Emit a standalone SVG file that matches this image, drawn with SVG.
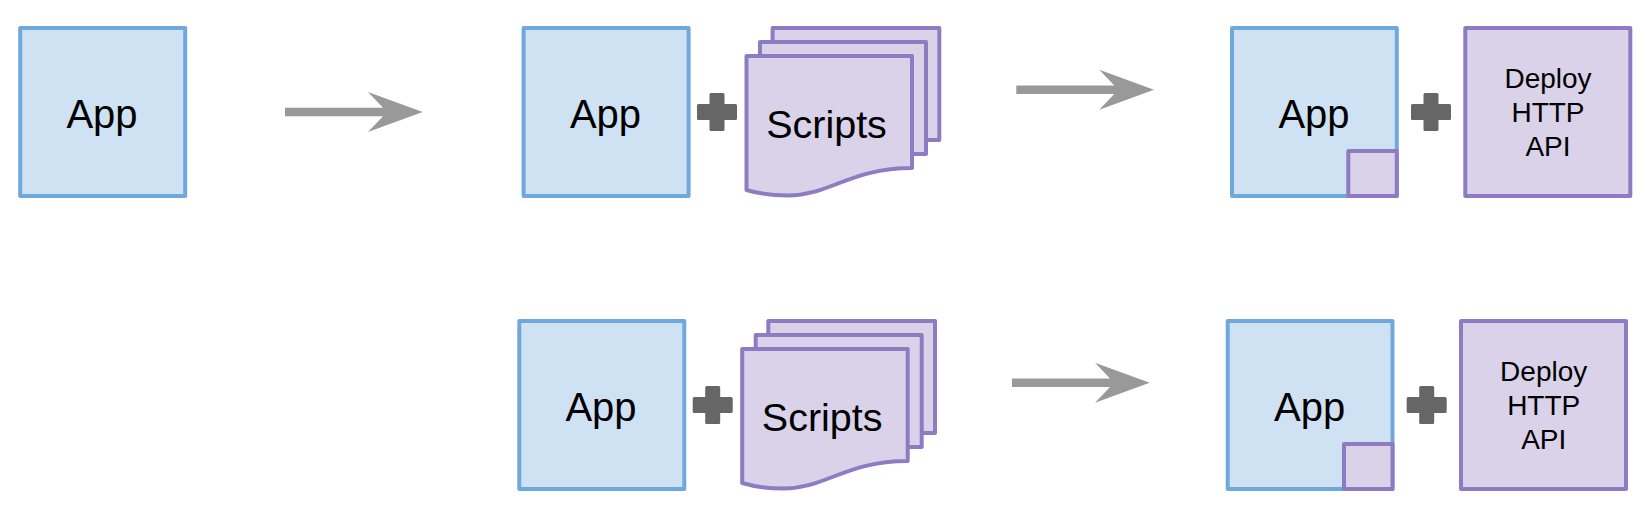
<svg xmlns="http://www.w3.org/2000/svg" width="1647" height="513" viewBox="0 0 1647 513">
<style>
.app{fill:#cfe2f3;stroke:#6fa8dc;stroke-width:4;stroke-linejoin:round}
.pur{fill:#d9d2e9;stroke:#8e7cc3;stroke-width:4;stroke-linejoin:round}
.plus{fill:#666666;stroke:#666666;stroke-width:3;stroke-linejoin:round}
.arrow{fill:#999999}
text{font-family:"Liberation Sans",Arial,sans-serif;fill:#000;text-anchor:middle}
.big{font-size:40px}
.doc{font-size:39.500px}
.small{font-size:28px}
</style>
<defs>
<path id="plusshape" class="plus" d="M14 1.500H26V12.500H38.500V25.500H26V36.500H14V25.500H1.500V12.500H14Z"/>
<path id="arrowshape" class="arrow" d="M0 -4.300H98L83 -20L137.700 0L83 20L98 4.300H0Z"/>
</defs>
<rect width="1647" height="513" fill="#ffffff"/>
<g id="connectors">
<use href="#arrowshape" x="285" y="112"/>
<use href="#arrowshape" x="1016.300" y="89.700"/>
<use href="#arrowshape" x="1012" y="382.700"/>
</g>
<g id="app-1"><rect class="app" x="20.200" y="28" width="165" height="168"/><text class="big" x="102" y="127.500">App</text></g>
<g id="app-2"><rect class="app" x="523.600" y="28" width="165" height="168"/><text class="big" x="605.500" y="127.500">App</text></g>
<g id="plus-1"><use href="#plusshape" x="697" y="93"/></g>
<g id="scripts-1">
<rect class="pur" x="772.600" y="28" width="166.700" height="112"/>
<rect class="pur" x="760" y="42" width="166" height="112"/>
<path class="pur" d="M746.500 56H912V168C850 168 830 195.500 788 195.500C775 195.500 760 194 746.500 190Z"/>
<text class="doc" x="826.500" y="138">Scripts</text>
</g>
<g id="app-3"><rect class="app" x="1232" y="28" width="164.800" height="168"/><rect class="pur" x="1348.300" y="151" width="48.500" height="45"/><text class="big" x="1314" y="127.500">App</text></g>
<g id="plus-2"><use href="#plusshape" x="1411" y="93"/></g>
<g id="deploy-1"><rect class="pur" x="1465.300" y="28" width="165" height="168"/><text class="small" x="1548" y="88.300">Deploy</text><text class="small" x="1548" y="122.300">HTTP</text><text class="small" x="1548" y="156">API</text></g>
<g id="app-4"><rect class="app" x="519.300" y="321" width="165" height="168"/><text class="big" x="601" y="420.500">App</text></g>
<g id="plus-3"><use href="#plusshape" x="692.700" y="386"/></g>
<g id="scripts-2">
<rect class="pur" x="768.300" y="321" width="166.700" height="112"/>
<rect class="pur" x="755.700" y="335" width="166" height="112"/>
<path class="pur" d="M742.200 349H907.700V461C845.700 461 825.700 488.500 783.700 488.500C770.700 488.500 755.700 487 742.200 483Z"/>
<text class="doc" x="822.200" y="431">Scripts</text>
</g>
<g id="app-5"><rect class="app" x="1227.700" y="321" width="164.800" height="168"/><rect class="pur" x="1344" y="444" width="48.500" height="45"/><text class="big" x="1309.700" y="420.500">App</text></g>
<g id="plus-4"><use href="#plusshape" x="1406.700" y="386"/></g>
<g id="deploy-2"><rect class="pur" x="1461" y="321" width="165" height="168"/><text class="small" x="1543.700" y="381.300">Deploy</text><text class="small" x="1543.700" y="415.300">HTTP</text><text class="small" x="1543.700" y="449">API</text></g>
</svg>
